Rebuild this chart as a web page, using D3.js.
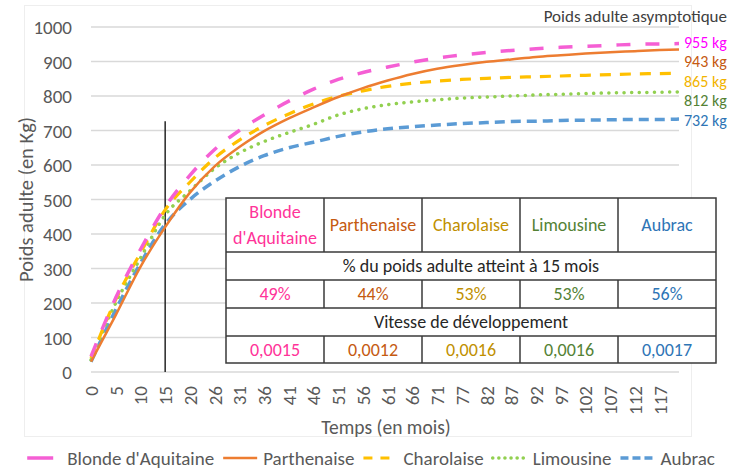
<!DOCTYPE html>
<html><head><meta charset="utf-8">
<script src="https://cdn.jsdelivr.net/npm/d3@7"></script>
<style>
body{margin:0;background:#fff}
svg{display:block}
text{font-family:Carlito, Lato, "Open Sans", sans-serif}
</style>
</head><body>
<svg id="c" width="748" height="473"></svg>
<script>
// ---------- data ----------
const xTickLabels = ["0","5","10","15","20","26","31","36","41","46","51","56","61","66","71","77","82","87","92","97","102","107","112","117"];
const xMonths = [0,5.1,10.2,15.3,20.4,25.5,30.6,35.7,40.8,45.9,51,56.1,61.2,66.3,71.4,76.5,81.6,86.7,91.8,96.9,102,107.1,112.2,117.3,121.3];
const breeds = ["Blonde d'Aquitaine","Parthenaise","Charolaise","Limousine","Aubrac"];
const blonde      = [45,215,355,478,570,645,700,745,785,820,848,868,884,898,910,919,926,932,937,941,944,947,950,951,952];
const parthenaise = [30,165,305,420,520,596,652,698,735,767,797,823,845,864,879,890,899,906,913,918,923,927,930,933,935];
const charolaise  = [40,210,345,470,550,620,672,714,748,777,799,815,828,837,843,848,851,854,856,858,860,862,864,865,866];
const limousine   = [35,200,330,455,525,590,635,668,694,718,745,763,775,783,789,794,797,800,803,805,807,809,810,811,812];
const aubrac      = [30,180,315,428,500,553,595,627,650,666,683,696,705,711,716,720,723,726,727,729,730,731,732,732,733];
const asymptote = [955,943,865,812,732];
const pct15 = ["49%","44%","53%","53%","56%"];
const vitesse = ["0,0015","0,0012","0,0016","0,0016","0,0017"];
const yTicks = [0,100,200,300,400,500,600,700,800,900,1000];
const markerMonth = 15.3, markerTop = 727;
const tableRowTitles = ["% du poids adulte atteint à 15 mois","Vitesse de développement"];

// ---------- styles ----------
const seriesVals = [blonde, parthenaise, charolaise, limousine, aubrac];
const lineColors = ["#f55fd4","#ed7d31","#ffc000","#92d050","#5b9bd5"];
const lineDash   = ["14,15", null, "11,9", "0.1,7.5", "10,6"];
const legendDash = ["26,40", null, "9,8", "0.1,6", "8,4"];
const lineWidth  = [3.5, 2.5, 3.2, 3.5, 3.5];
const textColors = ["#ff3399","#c55a11","#bf9000","#548235","#2e75b6"];
const asymColors = ["#ff00ff","#c55a11","#f2b400","#548235","#2e75b6"];
const gray = "#595959";

const svg = d3.select("#c");
const x = d3.scaleLinear().domain([0,121.3]).range([91,679]);
const y = d3.scaleLinear().domain([0,1000]).range([372,27]);

// faint chart border
svg.append("rect").attr("x",24.5).attr("y",5.5).attr("width",667).attr("height",431)
  .attr("fill","none").attr("stroke","#eeeeee").attr("stroke-width",1);

// gridlines
svg.append("g").selectAll("line").data(yTicks).join("line")
  .attr("x1",x(0)).attr("x2",x(121.3))
  .attr("y1",d=>y(d)).attr("y2",d=>y(d))
  .attr("stroke","#d9d9d9").attr("stroke-width",1.3);

// y axis labels
const yAxis = d3.axisLeft(y).tickValues(yTicks).tickSize(0).tickPadding(0).tickFormat(d3.format("d"));
const gy = svg.append("g").attr("transform","translate(72,0)").call(yAxis);
gy.select(".domain").remove();
gy.selectAll("text").attr("fill",gray).attr("font-size",19).attr("font-family","Carlito, Lato, sans-serif")
  .attr("dy",null).attr("dominant-baseline","central");

// x axis labels
const tickMonths = xMonths.slice(0, xTickLabels.length);
const xAxis = d3.axisBottom(x).tickValues(tickMonths).tickSize(0).tickFormat((d,i)=>xTickLabels[i]);
const gx = svg.append("g").attr("transform","translate(0,"+y(0)+")").call(xAxis);
gx.select(".domain").remove();
gx.selectAll("text").attr("fill",gray).attr("font-size",19).attr("font-family","Carlito, Lato, sans-serif")
  .attr("text-anchor","end").attr("dy",null)
  .attr("transform","translate(0,14) rotate(-90)")
  .attr("dominant-baseline","central").attr("y",0).attr("x",0);

// axis titles
svg.append("text").attr("transform","translate(26,"+((y(0)+y(1000))/2)+") rotate(-90)")
  .attr("text-anchor","middle").attr("dominant-baseline","central")
  .attr("font-size",20.5).attr("fill",gray).text("Poids adulte (en Kg)");
svg.append("text").attr("x",386).attr("y",427).attr("text-anchor","middle").attr("dominant-baseline","central")
  .attr("font-size",19.5).attr("fill",gray).text("Temps (en mois)");

// marker line at 15 months
svg.append("line").attr("x1",x(markerMonth)).attr("x2",x(markerMonth))
  .attr("y1",y(0)).attr("y2",y(markerTop)).attr("stroke","#262626").attr("stroke-width",1.5);

// series lines
const line = d3.line().x((d,i)=>x(xMonths[i])).y(d=>y(d)).curve(d3.curveMonotoneX);
const order = [4,3,2,1,0];
order.forEach(k=>{
  svg.append("path").datum(seriesVals[k]).attr("d",line)
    .attr("fill","none").attr("stroke",lineColors[k]).attr("stroke-width",lineWidth[k])
    .attr("stroke-dasharray",lineDash[k]).attr("stroke-linecap", k===3?"round":"butt");
});

// asymptote labels
svg.append("text").attr("x",727).attr("y",16).attr("text-anchor","end").attr("dominant-baseline","central")
  .attr("font-size",17).attr("fill","#404040").text("Poids adulte asymptotique");
let prev = -Infinity;
asymptote.forEach((v,i)=>{
  let ly = Math.max(y(v), prev + 19.4);
  prev = ly;
  svg.append("text").attr("x",684).attr("y",ly).attr("dominant-baseline","central")
    .attr("font-size",16).attr("fill",asymColors[i]).text(v+" kg");
});

// table
const tx0 = 226, tx1 = 716, rowsY = [198,252,280,308,336,363];
const colW = (tx1-tx0)/breeds.length;
const tg = svg.append("g");
tg.append("rect").attr("x",tx0).attr("y",rowsY[0]).attr("width",tx1-tx0).attr("height",rowsY[5]-rowsY[0])
  .attr("fill","#fff").attr("stroke","#3a3a3a").attr("stroke-width",1.5);
rowsY.slice(1,5).forEach(ry=>{
  tg.append("line").attr("x1",tx0).attr("x2",tx1).attr("y1",ry).attr("y2",ry).attr("stroke","#3a3a3a").attr("stroke-width",1.5);
});
[0,2,4].forEach(r=>{
  for(let c=1;c<breeds.length;c++){
    tg.append("line").attr("x1",tx0+c*colW).attr("x2",tx0+c*colW).attr("y1",rowsY[r]).attr("y2",rowsY[r+1])
      .attr("stroke","#3a3a3a").attr("stroke-width",1.5);
  }
});
breeds.forEach((b,i)=>{
  const cx = tx0 + colW*(i+0.5);
  const t = tg.append("text").attr("x",cx).attr("text-anchor","middle").attr("dominant-baseline","central")
    .attr("font-size",18).attr("fill",textColors[i]).text(b);
  const cy = (rowsY[0]+rowsY[1])/2;
  if (t.node().getComputedTextLength() > colW-4) {
    const words = b.split(" ");
    t.text(null);
    words.forEach((w,j)=>{
      t.append("tspan").attr("x",cx).attr("y",cy + (j-(words.length-1)/2)*26).text(w);
    });
  } else t.attr("y",cy);
  tg.append("text").attr("x",cx).attr("y",(rowsY[2]+rowsY[3])/2).attr("text-anchor","middle").attr("dominant-baseline","central")
    .attr("font-size",18).attr("fill",textColors[i]).text(pct15[i]);
  tg.append("text").attr("x",cx).attr("y",(rowsY[4]+rowsY[5])/2).attr("text-anchor","middle").attr("dominant-baseline","central")
    .attr("font-size",18).attr("fill",textColors[i]).text(vitesse[i]);
});
tableRowTitles.forEach((t,j)=>{
  const r = j*2+1;
  tg.append("text").attr("x",(tx0+tx1)/2).attr("y",(rowsY[r]+rowsY[r+1])/2).attr("text-anchor","middle")
    .attr("dominant-baseline","central").attr("font-size",18).attr("fill","#262626").text(t);
});

// legend
const lg = svg.append("g");
const symW = 34, symGap = 6, itemGap = 9, ly = 458;
let cur = 0;
breeds.forEach((b,i)=>{
  const g = lg.append("g");
  g.append("line").attr("x1",cur).attr("x2",cur+symW).attr("y1",ly).attr("y2",ly)
    .attr("stroke",lineColors[i]).attr("stroke-width",lineWidth[i])
    .attr("stroke-dasharray",legendDash[i]).attr("stroke-linecap", i===3?"round":"butt");
  const t = g.append("text").attr("x",cur+symW+symGap).attr("y",ly).attr("dominant-baseline","central")
    .attr("font-size",19).attr("fill",gray).text(b);
  cur += symW + symGap + t.node().getComputedTextLength() + itemGap;
});
const total = cur - itemGap;
lg.attr("transform","translate("+(371-total/2)+",0)");
</script>
</body></html>
